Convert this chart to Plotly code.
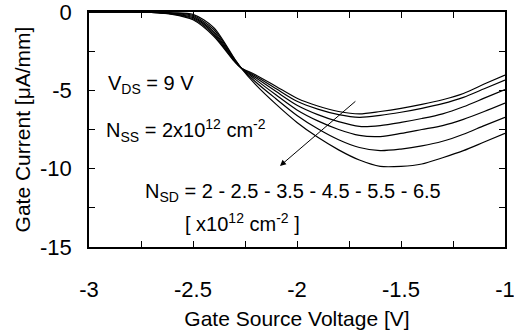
import plotly.graph_objects as go

# Gate-source voltage [V]
vgs = [-3.0, -2.8, -2.7, -2.6, -2.5, -2.4, -2.3, -2.27, -2.2, -2.1, -2.0, -1.9,
       -1.8, -1.7, -1.6, -1.5, -1.4, -1.3, -1.2, -1.1, -1.0]

# Gate current [uA/mm] for each N_SD value (x10^12 cm^-2)
ig_nsd_2_0 = [0, 0, -0.03, -0.15, -0.50, -1.55, -3.17, -3.55, -4.00, -4.75, -5.50, -6.00,
              -6.35, -6.50, -6.35, -6.15, -5.90, -5.60, -5.20, -4.60, -4.02]
ig_nsd_2_5 = [0, 0, -0.02, -0.13, -0.43, -1.45, -3.14, -3.55, -4.08, -4.90, -5.70, -6.20,
              -6.55, -6.72, -6.60, -6.40, -6.15, -5.85, -5.45, -4.90, -4.34]
ig_nsd_3_5 = [0, 0, -0.02, -0.11, -0.36, -1.35, -3.10, -3.55, -4.18, -5.08, -5.95, -6.55,
              -7.00, -7.30, -7.25, -7.05, -6.80, -6.50, -6.05, -5.50, -4.95]
ig_nsd_4_5 = [0, 0, -0.01, -0.09, -0.29, -1.25, -3.06, -3.55, -4.30, -5.30, -6.25, -6.95,
              -7.50, -7.88, -7.95, -7.75, -7.50, -7.25, -6.85, -6.35, -5.81]
ig_nsd_5_5 = [0, 0, -0.01, -0.07, -0.22, -1.12, -3.02, -3.55, -4.45, -5.55, -6.60, -7.45,
              -8.15, -8.65, -8.85, -8.75, -8.55, -8.25, -7.80, -7.25, -6.72]
ig_nsd_6_5 = [0, 0, 0.00, -0.05, -0.15, -1.00, -2.99, -3.55, -4.62, -5.90, -7.05, -8.00,
              -8.80, -9.45, -9.85, -9.85, -9.70, -9.30, -8.85, -8.30, -7.75]

series = [ig_nsd_2_0, ig_nsd_2_5, ig_nsd_3_5, ig_nsd_4_5, ig_nsd_5_5, ig_nsd_6_5]
series_names = ["2", "2.5", "3.5", "4.5", "5.5", "6.5"]

# Axis ticks
x_tickvals = [-3, -2.75, -2.5, -2.25, -2, -1.75, -1.5, -1.25, -1]
x_ticktext = ["-3", "", "-2.5", "", "-2", "", "-1.5", "", "-1"]
y_tickvals = [0, -2.5, -5, -7.5, -10, -12.5, -15]
y_ticktext = ["0", "", "-5", "", "-10", "", "-15"]

FONT = "Liberation Sans, Arial, sans-serif"

fig = go.Figure()
for name, ys in zip(series_names, series):
    fig.add_trace(go.Scatter(
        x=vgs, y=ys, mode="lines", name=name,
        line=dict(color="black", width=1.2, shape="spline", smoothing=0.8),
        showlegend=False,
    ))

axis_common = dict(
    showgrid=False, zeroline=False, showline=True, linecolor="black", linewidth=1.5,
    mirror="ticks", ticks="inside", ticklen=6, tickwidth=1, tickcolor="black",
    tickfont=dict(family=FONT, size=22, color="black"), automargin=False,
    ticklabeloverflow="allow",
)

fig.update_xaxes(
    range=[-3, -1], tickmode="array", tickvals=x_tickvals, ticktext=x_ticktext,
    ticklabelstandoff=22,
    title=dict(text="Gate Source Voltage [V]", font=dict(family=FONT, size=21, color="black"),
               standoff=10),
    **axis_common,
)
fig.update_yaxes(
    range=[-15, 0], tickmode="array", tickvals=y_tickvals, ticktext=y_ticktext,
    ticklabelstandoff=11,
    title=dict(text="Gate Current [μA/mm]", font=dict(family=FONT, size=21, color="black"),
               standoff=4),
    **axis_common,
)

txt_font = dict(family=FONT, size=20, color="black")
fig.add_annotation(xref="paper", yref="paper", x=0.041, y=0.69, xanchor="left", yanchor="middle",
                   text="V<sub>DS</sub> = 9 V", showarrow=False, font=txt_font)
fig.add_annotation(xref="paper", yref="paper", x=0.036, y=0.494, xanchor="left", yanchor="middle",
                   text="N<sub>SS</sub> = 2x10<sup>12</sup> cm<sup>-2</sup>", showarrow=False, font=txt_font)
fig.add_annotation(xref="paper", yref="paper", x=0.130, y=0.234, xanchor="left", yanchor="middle",
                   text="N<sub>SD</sub> = 2 - 2.5 - 3.5 - 4.5 - 5.5 - 6.5", showarrow=False, font=txt_font)
fig.add_annotation(xref="paper", yref="paper", x=0.226, y=0.106, xanchor="left", yanchor="middle",
                   text="[ x10<sup>12</sup> cm<sup>-2</sup> ]", showarrow=False, font=txt_font)

# Arrow indicating increasing N_SD
fig.add_annotation(x=-2.082, y=-9.83, ax=-1.712, ay=-5.62, xref="x", yref="y", axref="x", ayref="y",
                   text="", showarrow=True, arrowhead=2, arrowsize=1.2, arrowwidth=1, arrowcolor="black")

fig.update_layout(
    width=514, height=335,
    margin=dict(l=89, r=9, t=12, b=88),
    paper_bgcolor="white", plot_bgcolor="white",
    font=dict(family=FONT, color="black"),
)

fig.write_html("out.html")
